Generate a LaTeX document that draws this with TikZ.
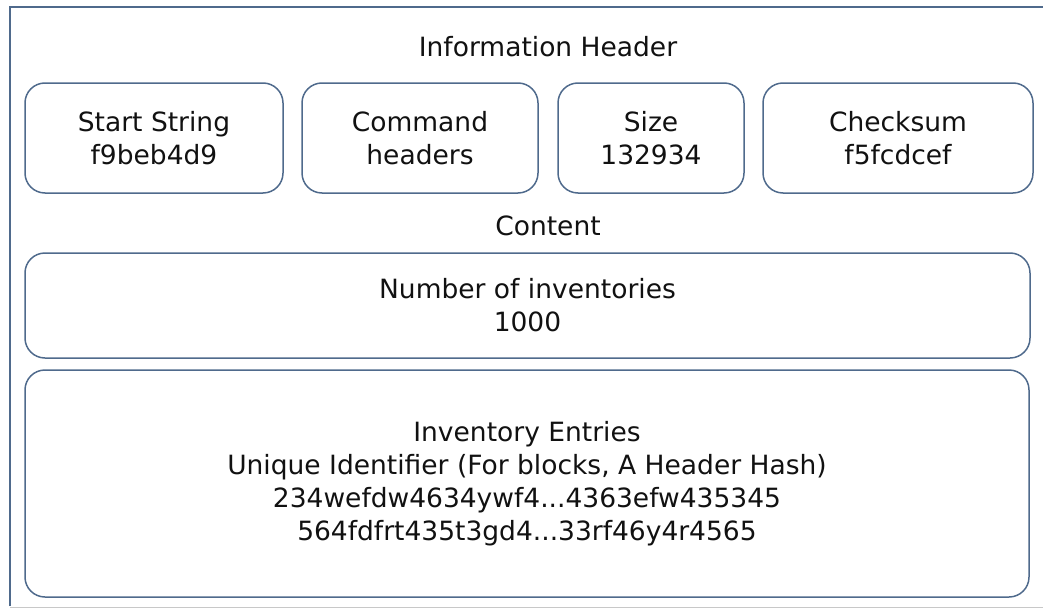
\documentclass[tikz,border=0pt]{standalone}
\usepackage{fontspec}
\setmainfont{DejaVu Sans}
\usepackage{tikz}
\usetikzlibrary{positioning}
\usepackage{xcolor}
\definecolor{edge}{HTML}{4F6A8C}
\definecolor{ink}{HTML}{111111}
\definecolor{rim}{HTML}{C8C8C8}

\begin{document}
\begin{tikzpicture}[x=1pt, y=1pt,
    font=\fontsize{26.5}{33}\selectfont,
    field/.style={draw=edge, line width=1.5pt, rounded corners=20pt, align=center, text=ink, inner sep=0pt},
    title/.style={text=ink, inner sep=0pt}]
  \useasboundingbox (0,0) rectangle (1043,-610);
  % outer frame
  \draw[edge, line width=1.6pt] (10,-606) -- (10,-7) -- (1043,-7);
  \draw[rim, line width=1pt] (10,-607) -- (1043,-607);
  % header
  \node[title] (hdr) at (548,-47) {Information Header};
  \node[field, minimum width=258pt, minimum height=110pt] (start) at (154,-138) {Start String\\ f9beb4d9};
  \node[field, minimum width=236pt, minimum height=110pt] (cmd) at (420,-138) {Command\\ headers};
  \node[field, minimum width=186pt, minimum height=110pt] (size) at (651,-138) {Size\\ 132934};
  \node[field, minimum width=270pt, minimum height=110pt] (check) at (898,-138) {Checksum\\ f5fcdcef};
  % content
  \node[title] (cnt) at (548,-226) {Content};
  \node[field, minimum width=1005pt, minimum height=105pt] (count) at (527.5,-305.5) {Number of inventories\\ 1000};
  \node[field, minimum width=1004pt, minimum height=227pt] (entries) at (527,-483.5)
    {Inventory Entries\\ Unique Identifier (For blocks, A Header Hash)\\ 234wefdw4634ywf4...4363efw435345\\ 564fdfrt435t3gd4...33rf46y4r4565};
\end{tikzpicture}
\end{document}
